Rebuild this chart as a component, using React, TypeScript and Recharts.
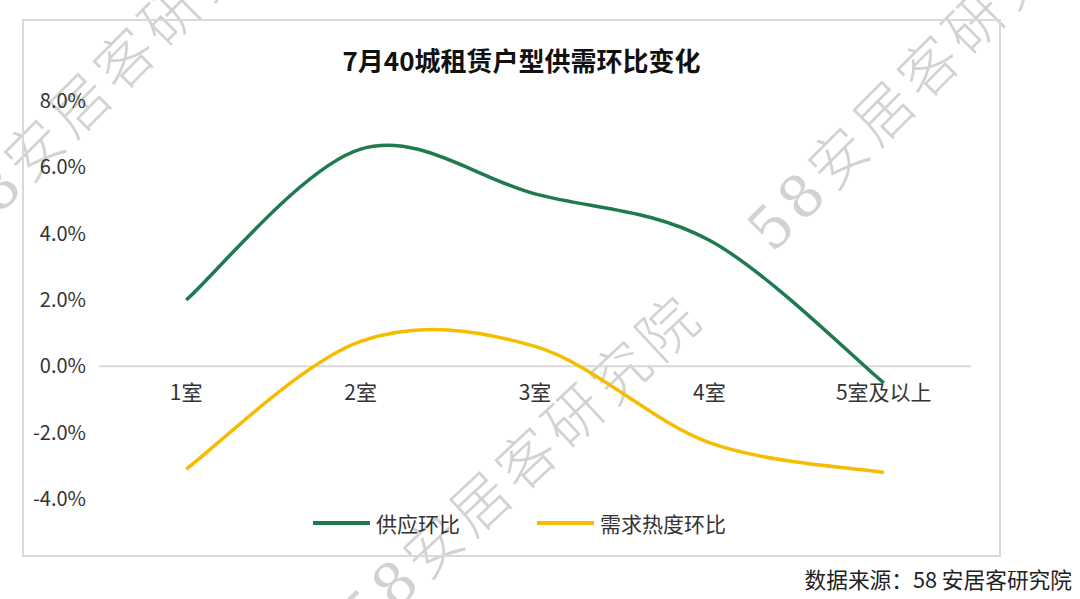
import React from 'react';
import { LineChart, Line, XAxis, YAxis, ReferenceLine, ReferenceDot } from 'recharts';

const categories = ['1室', '2室', '3室', '4室', '5室及以上'];
const supplyValues = [2.0, 6.55, 5.2, 3.8, -0.5];
const demandValues = [-3.1, 0.75, 0.6, -2.3, -3.2];
const yTicks = [-4, -2, 0, 2, 4, 6, 8];
const seriesKeys = ['supply', 'demand'];
const seriesNames = ['供应环比', '需求热度环比'];
const seriesColors = ['#1f7a4f', '#f5bd00'];
const titleText = '7月40城租赁户型供需环比变化';
const sourceText = '数据来源：58 安居客研究院';
const watermarkText = '58安居客研究院';

const data = categories.map((c, i) => ({
  category: c,
  supply: supplyValues[i],
  demand: demandValues[i],
}));

// Excel-like smoothed line (uniform Catmull-Rom as cubic Bezier)
const smoothCurve = (context: any) => {
  let pts: number[][] = [];
  return {
    areaStart() {},
    areaEnd() {},
    lineStart() {
      pts = [];
    },
    point(x: number, y: number) {
      pts.push([+x, +y]);
    },
    lineEnd() {
      const n = pts.length;
      if (!n) return;
      context.moveTo(pts[0][0], pts[0][1]);
      for (let i = 0; i < n - 1; i++) {
        const p0 = pts[Math.max(i - 1, 0)];
        const p1 = pts[i];
        const p2 = pts[i + 1];
        const p3 = pts[Math.min(i + 2, n - 1)];
        context.bezierCurveTo(
          p1[0] + (p2[0] - p0[0]) / 6,
          p1[1] + (p2[1] - p0[1]) / 6,
          p2[0] - (p3[0] - p1[0]) / 6,
          p2[1] - (p3[1] - p1[1]) / 6,
          p2[0],
          p2[1]
        );
      }
    },
  };
};

const FONT = "'Noto Sans CJK SC', 'Noto Sans', sans-serif";

const Watermark = ({ left, top, angle }: { left: number; top: number; angle: number }) => (
  <div
    style={{
      position: 'absolute',
      left,
      top: top - 29,
      height: 58,
      lineHeight: '58px',
      fontSize: 58,
      letterSpacing: 6,
      color: '#d2d2d2',
      fontFamily: "'DejaVu Serif', 'Noto Sans CJK SC', serif",
      fontWeight: 300,
      whiteSpace: 'nowrap',
      transformOrigin: '0 50%',
      transform: `rotate(${angle}deg)`,
      pointerEvents: 'none',
    }}
  >
    {watermarkText}
  </div>
);

export default function App() {
  return (
    <div
      style={{
        position: 'absolute',
        left: 0,
        top: 0,
        width: 1080,
        height: 599,
        overflow: 'hidden',
        background: '#fff',
        fontFamily: FONT,
      }}
    >
      <Watermark left={-46} top={232} angle={-45} />
      <Watermark left={350} top={626} angle={-43} />
      <Watermark left={758} top={240} angle={-45} />

      <div
        style={{
          position: 'absolute',
          left: 22,
          top: 19,
          width: 975,
          height: 534,
          border: '2px solid #d9d9d9',
        }}
      />

      <div
        style={{
          position: 'absolute',
          left: 30,
          width: 983,
          top: 43,
          textAlign: 'center',
          fontSize: 26,
          fontWeight: 700,
          color: '#111',
          lineHeight: '34px',
        }}
      >
        {titleText}
      </div>

      <div style={{ position: 'absolute', left: 0, top: 0 }}>
        <LineChart
          width={1080}
          height={599}
          data={data}
          margin={{ top: 101, right: 109, bottom: 100, left: 19 }}
        >
          <XAxis dataKey="category" scale="band" hide />
          <YAxis
            width={80}
            domain={[-4, 8]}
            ticks={yTicks}
            interval={0}
            tickFormatter={(v: number) => `${v.toFixed(1)}%`}
            axisLine={false}
            tickLine={false}
            tickSize={0}
            tickMargin={13}
            tick={{ fill: '#333', fontSize: 20 }}
          />
          <ReferenceLine y={0} stroke="#d9d9d9" strokeWidth={2} />
          {categories.map((c) => (
            <ReferenceDot
              key={c}
              x={c}
              y={0}
              r={0}
              fill="none"
              stroke="none"
              label={{ value: c, position: 'bottom', offset: 19, fill: '#333', fontSize: 21 }}
            />
          ))}
          {seriesKeys.map((k, i) => (
            <Line
              key={k}
              dataKey={k}
              name={seriesNames[i]}
              stroke={seriesColors[i]}
              strokeWidth={3.5}
              dot={false}
              activeDot={false}
              type={smoothCurve as any}
              isAnimationActive={false}
            />
          ))}
        </LineChart>
      </div>

      <div
        style={{
          position: 'absolute',
          left: 313,
          top: 509,
          display: 'flex',
          alignItems: 'center',
          fontSize: 21,
          color: '#333',
          lineHeight: '28px',
        }}
      >
        {seriesNames.map((n, i) => (
          <div
            key={n}
            style={{ display: 'flex', alignItems: 'center', marginRight: i === 0 ? 77 : 0 }}
          >
            <div style={{ width: 57, height: 4, background: seriesColors[i], marginRight: 6 }} />
            <span>{n}</span>
          </div>
        ))}
      </div>

      <div
        style={{
          position: 'absolute',
          right: 8,
          top: 565,
          fontSize: 21.7,
          color: '#222',
          lineHeight: '28px',
          whiteSpace: 'nowrap',
        }}
      >
        {sourceText}
      </div>
    </div>
  );
}
